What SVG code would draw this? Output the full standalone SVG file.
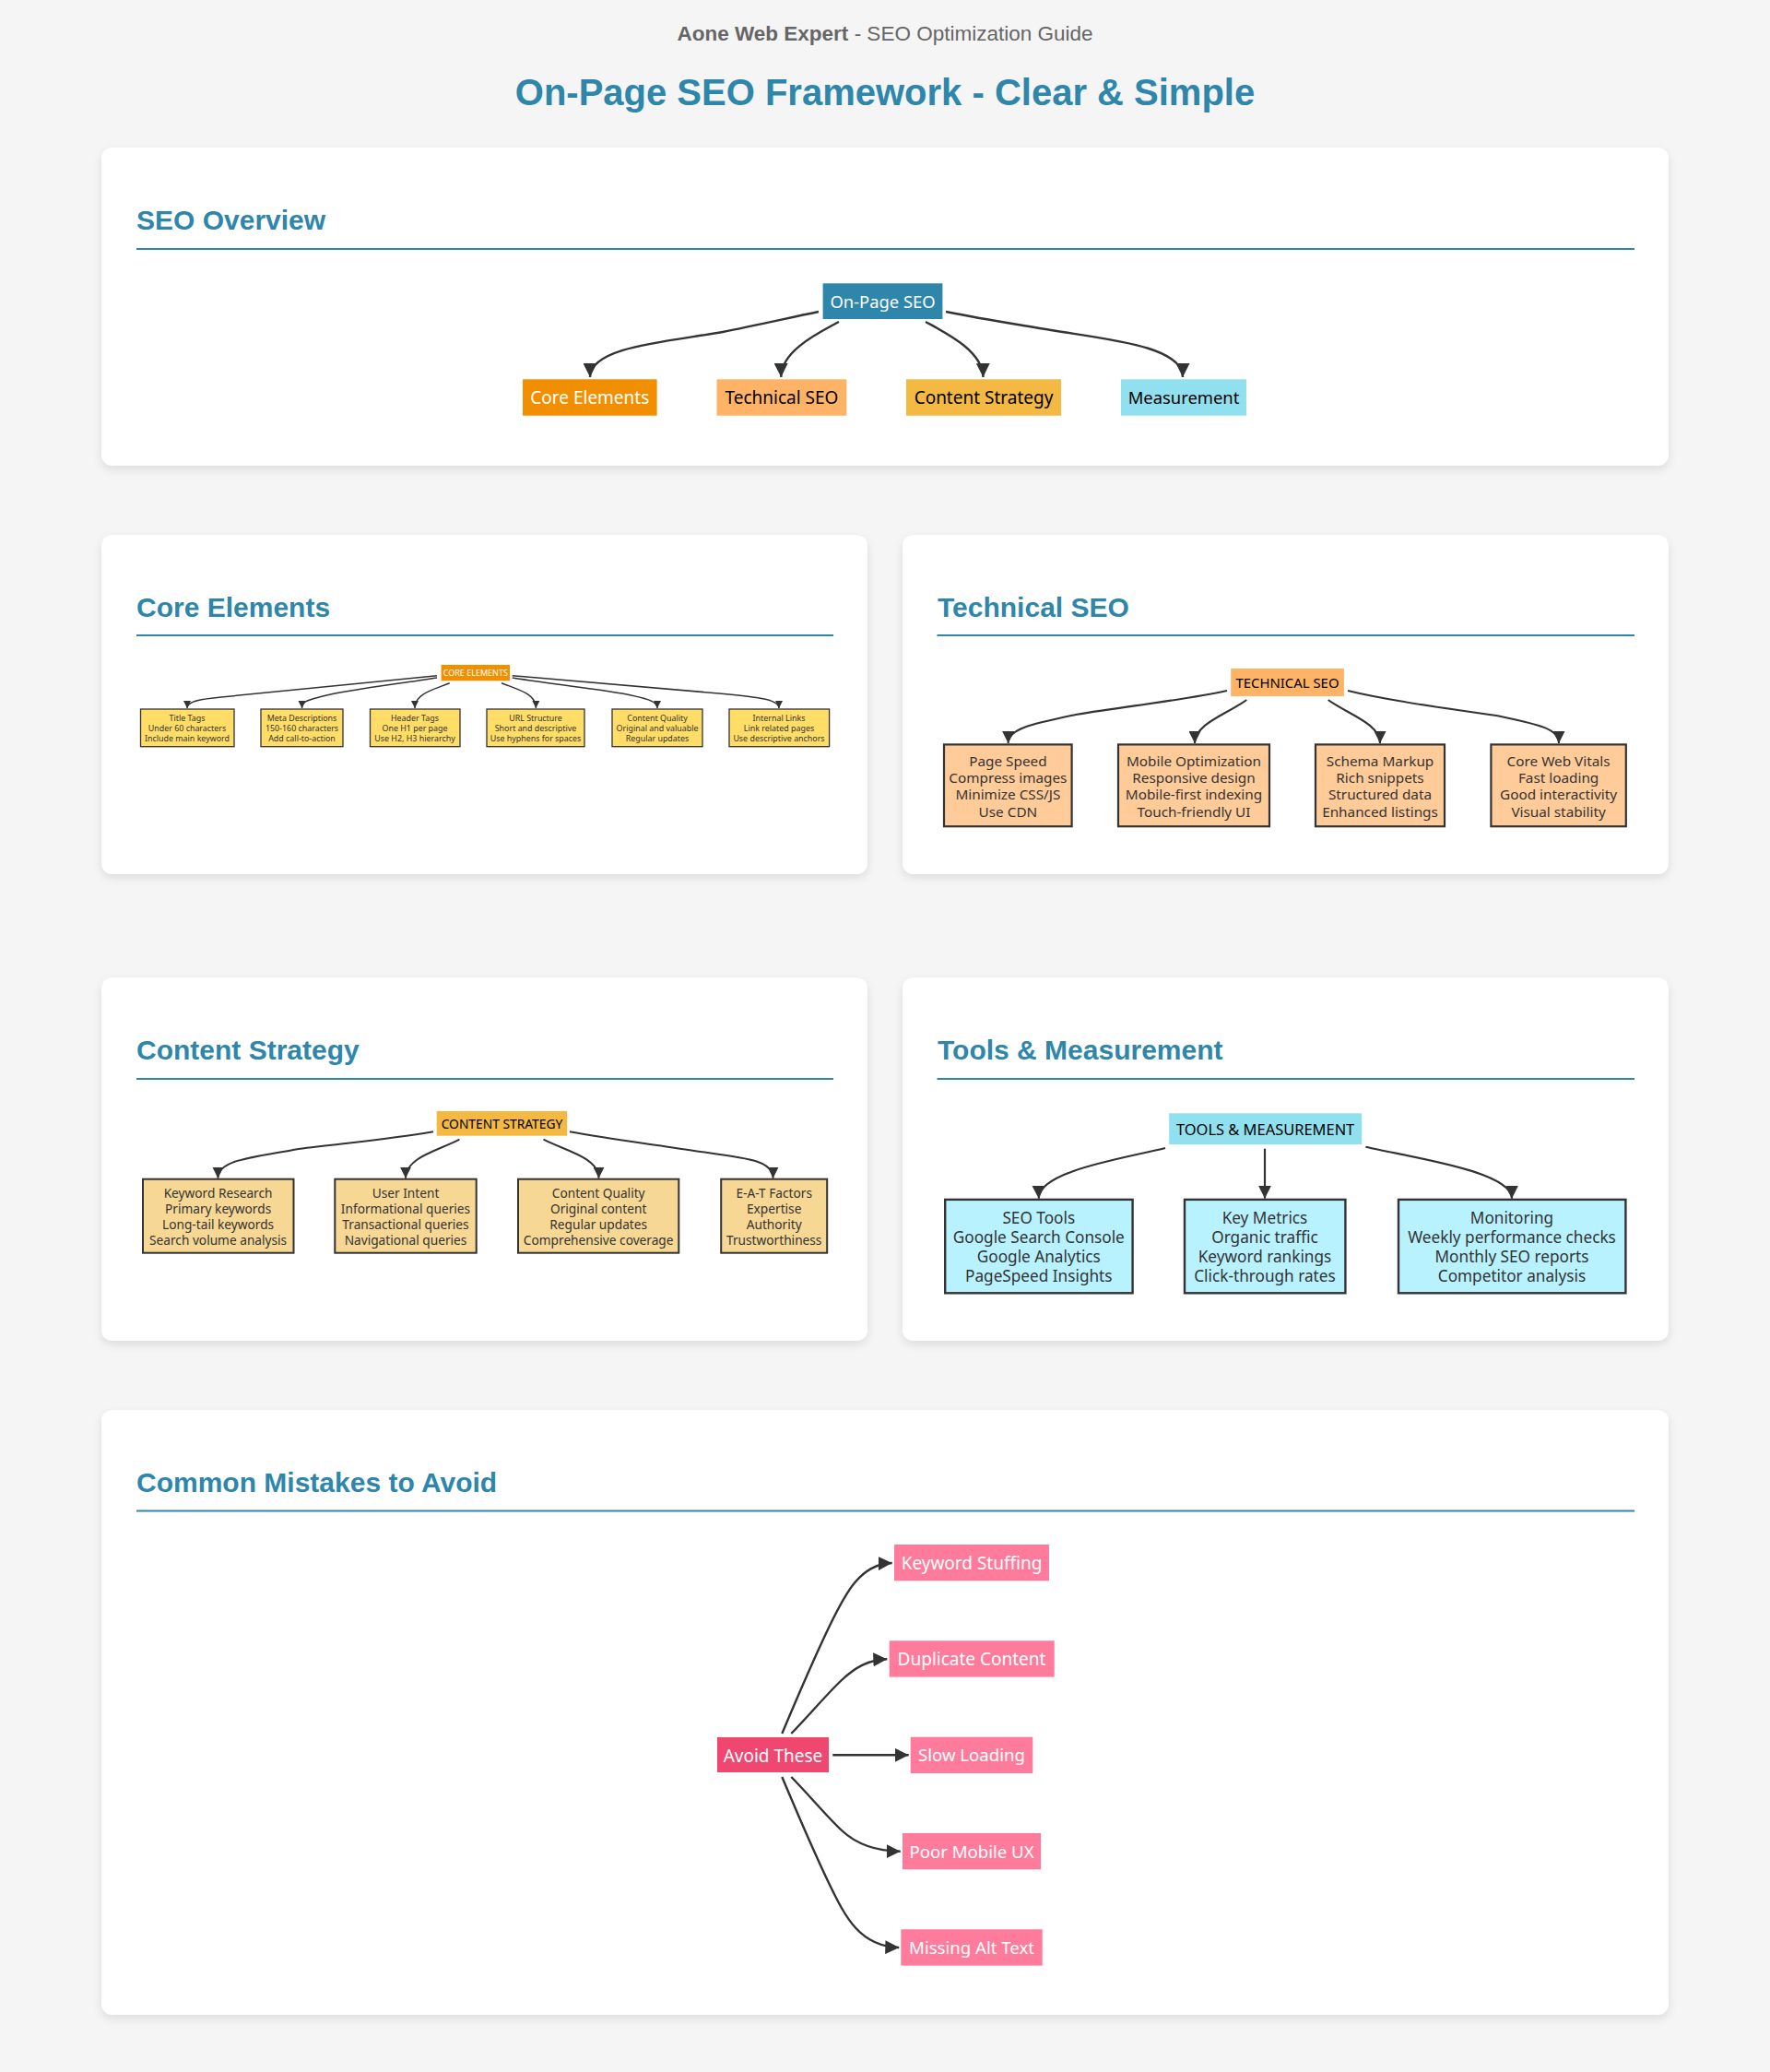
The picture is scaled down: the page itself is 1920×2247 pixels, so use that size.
<svg xmlns="http://www.w3.org/2000/svg" width="1920" height="2247" viewBox="0 0 1920 2247">
<style>
text{text-anchor:middle;font-family:"Noto Sans",sans-serif}
.c{fill:#fff;filter:url(#sh)}
text.h{font:bold 30px "Liberation Sans",Arial,sans-serif;fill:#2e86ab;text-anchor:start}
.u{stroke:#2e86ab;stroke-width:2}
.e{fill:none;stroke:#333}
.d rect{stroke:#333}
.d text{fill:#333}
.w text{fill:#fff}
.k text{fill:#000}
.s19 text{font-size:19px}
.core text{font-size:8.9px}.core rect{stroke-width:1.3px}
.tech text{font-size:15.3px}.tech rect{stroke-width:2.2px}
.cont text{font-size:13.7px}.cont rect{stroke-width:2px}
.tool text{font-size:17.2px}.tool rect{stroke-width:2.4px}
</style>
<defs>
<filter id="sh" x="-5%" y="-5%" width="110%" height="110%"><feDropShadow dx="0" dy="4" stdDeviation="5" flood-color="#000" flood-opacity=".1"/></filter>
<marker id="a15" viewBox="0 0 10 10" refX="10" refY="5" markerUnits="userSpaceOnUse" markerWidth="15" markerHeight="15" orient="auto"><path d="M0,0L10,5L0,10z" fill="#333"/></marker>
<marker id="a14" viewBox="0 0 10 10" refX="10" refY="5" markerUnits="userSpaceOnUse" markerWidth="14" markerHeight="14" orient="auto"><path d="M0,0L10,5L0,10z" fill="#333"/></marker>
<marker id="a13" viewBox="0 0 10 10" refX="10" refY="5" markerUnits="userSpaceOnUse" markerWidth="13" markerHeight="13" orient="auto"><path d="M0,0L10,5L0,10z" fill="#333"/></marker>
<marker id="a12" viewBox="0 0 10 10" refX="10" refY="5" markerUnits="userSpaceOnUse" markerWidth="12" markerHeight="12" orient="auto"><path d="M0,0L10,5L0,10z" fill="#333"/></marker>
<marker id="a8" viewBox="0 0 10 10" refX="10" refY="5" markerUnits="userSpaceOnUse" markerWidth="8.5" markerHeight="8.5" orient="auto"><path d="M0,0L10,5L0,10z" fill="#333"/></marker>
</defs>
<rect width="1920" height="2247" fill="#f5f5f5"/>
<text x="960" y="44" font-size="22.5" fill="#666" style="font-family:'Liberation Sans',sans-serif"><tspan font-weight="bold">Aone Web Expert</tspan> - SEO Optimization Guide</text>
<text x="960" y="114" font-size="40" font-weight="bold" fill="#2e86ab" style="font-family:'Liberation Sans',sans-serif">On-Page SEO Framework - Clear &amp; Simple</text>
<g id="cards">
<rect class="c" x="110" y="160" width="1700" height="345" rx="12"/>
<rect class="c" x="110" y="580" width="831" height="368" rx="12"/>
<rect class="c" x="979" y="580" width="831" height="368" rx="12"/>
<rect class="c" x="110" y="1060" width="831" height="394" rx="12"/>
<rect class="c" x="979" y="1060" width="831" height="394" rx="12"/>
<rect class="c" x="110" y="1529" width="1700" height="656" rx="12"/>
</g>
<g id="headings">
<text class="h" x="148" y="249">SEO Overview</text><line class="u" x1="148" x2="1773" y1="270" y2="270"/>
<text class="h" x="148" y="669">Core Elements</text><line class="u" x1="148" x2="904" y1="689" y2="689"/>
<text class="h" x="1017" y="669">Technical SEO</text><line class="u" x1="1016.500" x2="1773" y1="689" y2="689"/>
<text class="h" x="148" y="1149">Content Strategy</text><line class="u" x1="148" x2="904" y1="1170" y2="1170"/>
<text class="h" x="1017" y="1149">Tools &amp; Measurement</text><line class="u" x1="1016.500" x2="1773" y1="1170" y2="1170"/>
<text class="h" x="148" y="1618">Common Mistakes to Avoid</text><line class="u" x1="148" x2="1773" y1="1638.5" y2="1638.5"/>
</g>
<g id="connectors" class="e">
<g stroke-width="2.4">
<path marker-end="url(#a15)" d="M888,338C850,346 815,354 784,360C730,370 640,375 640,409"/>
<path marker-end="url(#a15)" d="M910,349C890,360 847,380 847.3,409"/>
<path marker-end="url(#a15)" d="M1004,349C1024,360 1066,380 1066.5,409"/>
<path marker-end="url(#a15)" d="M1026,338C1065,346 1105,352 1140,358C1200,368 1283,375 1283,409"/>
<path marker-end="url(#a15)" d="M848.3,1880C866,1838 884,1796 900,1763C917,1728 933,1696 967.7,1695"/>
<path marker-end="url(#a15)" d="M858.3,1880C878,1860 896,1838 913,1822C928,1808 942,1800 962.3,1799.3"/>
<path marker-end="url(#a15)" d="M903.3,1903.3L985.7,1903.3"/>
<path marker-end="url(#a15)" d="M858.3,1927C878,1947 896,1969 913,1985C928,1999 950,2007.5 976.7,2007.7"/>
<path marker-end="url(#a15)" d="M848.3,1927C866,1969 884,2011 900,2044C917,2079 933,2111 975.3,2112"/>
</g>
<g stroke-width="1.5">
<path marker-end="url(#a8)" d="M474,732.7C400,740 300,750 240,756C220,758 203,760 203,768"/>
<path marker-end="url(#a8)" d="M474,735C430,742 378,748 350,755C335,759 327.5,760 327.5,768"/>
<path marker-end="url(#a8)" d="M487.7,740.7C470,748 450,752 450,768"/>
<path marker-end="url(#a8)" d="M544,740.7C562,748 581.4,752 581.4,768"/>
<path marker-end="url(#a8)" d="M555.7,735C600,742 646,747 675,752C700,757 713,760 713,768"/>
<path marker-end="url(#a8)" d="M555.7,732.7C640,740 726,747 780,752C820,756 845,758 845,768"/>
</g>
<g stroke-width="2.1">
<path marker-end="url(#a13)" d="M1331,749C1280,760 1220,766 1167,775C1120,785 1093.6,790 1093.6,806"/>
<path marker-end="url(#a13)" d="M1352.3,759C1330,775 1296,785 1296,806"/>
<path marker-end="url(#a13)" d="M1440.7,759C1463,775 1497,785 1497,806"/>
<path marker-end="url(#a13)" d="M1462,749C1515,762 1570,768 1623,776C1670,786 1691,790 1691,806"/>
</g>
<g stroke-width="2">
<path marker-end="url(#a12)" d="M470,1227.3C420,1236 370,1240 324,1246C270,1256 236.4,1258 236.4,1277.7"/>
<path marker-end="url(#a12)" d="M498.4,1235.7C475,1248 440,1255 440,1277.7"/>
<path marker-end="url(#a12)" d="M589.5,1235.7C613,1248 649.5,1255 649.5,1277.7"/>
<path marker-end="url(#a12)" d="M617.9,1227.3C665,1236 710,1241 753,1248C810,1256 838.6,1258 838.6,1277.7"/>
</g>
<g stroke-width="2.2">
<path marker-end="url(#a14)" d="M1264,1245C1220,1256 1126,1270 1126.8,1299.7"/>
<path marker-end="url(#a14)" d="M1372,1245.7L1372,1299.7"/>
<path marker-end="url(#a14)" d="M1481.4,1243.7C1530,1255 1640,1270 1640,1299.7"/>
</g>
</g>
<g class="s19">
<g id="onpage" class="w"><rect x="892.6" y="307.3" width="129.8" height="38.7" fill="#2e86ab"/><text x="957.5" y="333.7" style="font-size:18.4px">On-Page SEO</text></g>
<g id="ov-core" class="w"><rect x="567" y="411.3" width="145.6" height="39.4" fill="#f18f01"/><text x="639.8" y="437.7">Core Elements</text></g>
<g id="ov-tech" class="k"><rect x="777.5" y="411.3" width="140.8" height="39.4" fill="#ffb366"/><text x="847.9" y="437.7">Technical SEO</text></g>
<g id="ov-cont" class="k"><rect x="983" y="411.3" width="168" height="39.4" fill="#f4b942"/><text x="1067" y="437.7">Content Strategy</text></g>
<g id="ov-meas" class="k"><rect x="1216" y="411.3" width="136" height="39.4" fill="#90e0ef"/><text x="1284" y="437.7" style="font-size:18.4px">Measurement</text></g>
<g id="avoid" class="w"><rect x="778" y="1884" width="121" height="38" fill="#ef476f"/><text x="838.5" y="1911">Avoid These</text></g>
<g id="m1" class="w"><rect x="970" y="1675" width="168" height="39.3" fill="#ff7b9c"/><text x="1054" y="1701.7">Keyword Stuffing</text></g>
<g id="m2" class="w"><rect x="964.7" y="1779.3" width="179" height="39.3" fill="#ff7b9c"/><text x="1054" y="1806">Duplicate Content</text></g>
<g id="m3" class="w"><rect x="987.7" y="1883.7" width="132.6" height="39.3" fill="#ff7b9c"/><text x="1054" y="1910.4" style="font-size:18.6px">Slow Loading</text></g>
<g id="m4" class="w"><rect x="979" y="1988" width="150" height="39.3" fill="#ff7b9c"/><text x="1054" y="2014.7" style="font-size:18.6px">Poor Mobile UX</text></g>
<g id="m5" class="w"><rect x="977.3" y="2092.3" width="153.4" height="39.3" fill="#ff7b9c"/><text x="1054" y="2119" style="font-size:18.6px">Missing Alt Text</text></g>
</g>
<g class="core">
<g id="core-root" class="w"><rect x="478.6" y="721" width="74.4" height="17.3" fill="#f18f01" style="stroke:none"/><text x="515.8" y="732.7" style="font-size:9px">CORE ELEMENTS</text></g>
<g class="d" fill="#ffdd66">
<g id="c1"><rect x="152.5" y="769" width="101.5" height="40.7"/><text x="203" y="782">Title Tags</text><text x="203" y="793">Under 60 characters</text><text x="203" y="804">Include main keyword</text></g>
<g id="c2"><rect x="283" y="769" width="89" height="40.7"/><text x="327.5" y="782">Meta Descriptions</text><text x="327.5" y="793">150-160 characters</text><text x="327.5" y="804">Add call-to-action</text></g>
<g id="c3"><rect x="401.5" y="769" width="97.5" height="40.7"/><text x="450" y="782">Header Tags</text><text x="450" y="793">One H1 per page</text><text x="450" y="804">Use H2, H3 hierarchy</text></g>
<g id="c4"><rect x="528" y="769" width="106" height="40.7"/><text x="581" y="782">URL Structure</text><text x="581" y="793">Short and descriptive</text><text x="581" y="804">Use hyphens for spaces</text></g>
<g id="c5"><rect x="664" y="769" width="98" height="40.7"/><text x="713" y="782">Content Quality</text><text x="713" y="793">Original and valuable</text><text x="713" y="804">Regular updates</text></g>
<g id="c6"><rect x="791" y="769" width="108.6" height="40.7"/><text x="845" y="782">Internal Links</text><text x="845" y="793">Link related pages</text><text x="845" y="804">Use descriptive anchors</text></g>
</g>
</g>
<g class="tech">
<g id="tech-root" class="k"><rect x="1335.2" y="725" width="122.7" height="30" fill="#ffb366" style="stroke:none"/><text x="1396.5" y="745.5" style="font-size:14.9px">TECHNICAL SEO</text></g>
<g class="d" fill="#ffcc99">
<g id="t1"><rect x="1024" y="807.4" width="138.6" height="88.8"/><text x="1093.4" y="830.500">Page Speed</text><text x="1093.4" y="849">Compress images</text><text x="1093.4" y="867">Minimize CSS/JS</text><text x="1093.4" y="886">Use CDN</text></g>
<g id="t2"><rect x="1213" y="807.4" width="164" height="88.8"/><text x="1295" y="830.500">Mobile Optimization</text><text x="1295" y="849">Responsive design</text><text x="1295" y="867">Mobile-first indexing</text><text x="1295" y="886">Touch-friendly UI</text></g>
<g id="t3"><rect x="1427" y="807.4" width="140" height="88.8"/><text x="1497" y="830.500">Schema Markup</text><text x="1497" y="849">Rich snippets</text><text x="1497" y="867">Structured data</text><text x="1497" y="886">Enhanced listings</text></g>
<g id="t4"><rect x="1617.4" y="807.4" width="146.4" height="88.8"/><text x="1690.6" y="830.500">Core Web Vitals</text><text x="1690.6" y="849">Fast loading</text><text x="1690.6" y="867">Good interactivity</text><text x="1690.6" y="886">Visual stability</text></g>
</g>
</g>
<g class="cont">
<g id="cont-root" class="k"><rect x="473.7" y="1205" width="141.5" height="26.7" fill="#f4b942" style="stroke:none"/><text x="544.5" y="1223.5" style="font-size:13.8px">CONTENT STRATEGY</text></g>
<g class="d" fill="#f7d794">
<g id="s1"><rect x="155" y="1278.7" width="163.5" height="80"/><text x="236.6" y="1299">Keyword Research</text><text x="236.6" y="1316">Primary keywords</text><text x="236.6" y="1333">Long-tail keywords</text><text x="236.6" y="1349.5">Search volume analysis</text></g>
<g id="s2"><rect x="363.3" y="1278.7" width="153.4" height="80"/><text x="440" y="1299">User Intent</text><text x="440" y="1316">Informational queries</text><text x="440" y="1333">Transactional queries</text><text x="440" y="1349.5">Navigational queries</text></g>
<g id="s3"><rect x="562" y="1278.7" width="174.3" height="80"/><text x="649.2" y="1299">Content Quality</text><text x="649.2" y="1316">Original content</text><text x="649.2" y="1333">Regular updates</text><text x="649.2" y="1349.5">Comprehensive coverage</text></g>
<g id="s4"><rect x="782.2" y="1278.7" width="115" height="80"/><text x="839.7" y="1299">E-A-T Factors</text><text x="839.7" y="1316">Expertise</text><text x="839.7" y="1333">Authority</text><text x="839.7" y="1349.5">Trustworthiness</text></g>
</g>
</g>
<g class="tool">
<g id="tool-root" class="k"><rect x="1268.2" y="1207.3" width="208.9" height="33.7" fill="#90e0ef" style="stroke:none"/><text x="1372.6" y="1230.5" style="font-size:16.45px">TOOLS &amp; MEASUREMENT</text></g>
<g class="d" fill="#b8f2ff">
<g id="o1"><rect x="1025.2" y="1300.9" width="203.4" height="101.4"/><text x="1126.8" y="1326.7">SEO Tools</text><text x="1126.8" y="1347.7">Google Search Console</text><text x="1126.8" y="1369">Google Analytics</text><text x="1126.8" y="1390">PageSpeed Insights</text></g>
<g id="o2"><rect x="1285" y="1300.9" width="174.4" height="101.4"/><text x="1372" y="1326.7">Key Metrics</text><text x="1372" y="1347.7">Organic traffic</text><text x="1372" y="1369">Keyword rankings</text><text x="1372" y="1390">Click-through rates</text></g>
<g id="o3"><rect x="1517" y="1300.9" width="246.4" height="101.4"/><text x="1640" y="1326.7">Monitoring</text><text x="1640" y="1347.7">Weekly performance checks</text><text x="1640" y="1369">Monthly SEO reports</text><text x="1640" y="1390">Competitor analysis</text></g>
</g>
</g>
</svg>
